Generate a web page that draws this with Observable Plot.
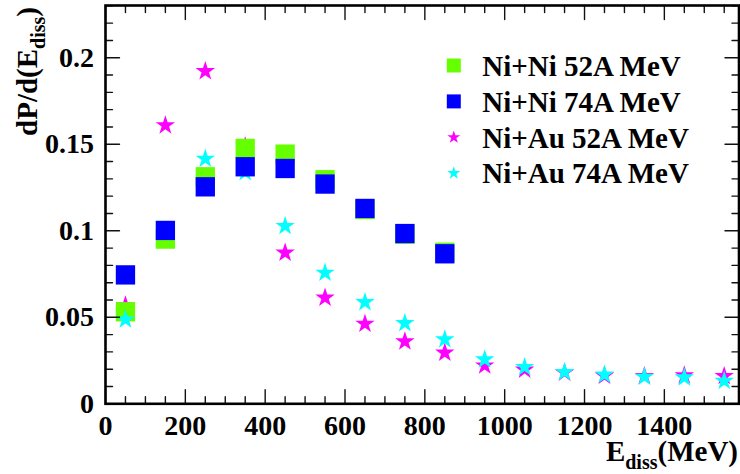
<!DOCTYPE html>
<html><head><meta charset="utf-8">
<script src="https://cdn.jsdelivr.net/npm/d3@7"></script>
<script src="https://cdn.jsdelivr.net/npm/@observablehq/plot@0.6"></script>
<style>
body{margin:0;background:#fff;font-family:'Liberation Serif';}
#wrap{position:relative;width:740px;height:474px;}
.ttl{font-family:'Liberation Serif';font-weight:bold;font-size:29px;line-height:29px;white-space:nowrap;color:#000;}
.ttl sub{font-size:20px;vertical-align:baseline;position:relative;top:8px;}
#xtitle{position:absolute;right:2px;top:437.3px;}
#yorigin{position:absolute;left:0;top:0;width:0;height:0;transform:translate(36.5px,7px) rotate(-90deg);transform-origin:0 0;}
#ytitle{position:absolute;right:0;top:-24.2px;}
</style>
</head><body><div id="wrap"><div id="chart"></div>
<div id="xtitle" class="ttl">E<sub>diss</sub>(MeV)</div>
<div id="yorigin"><div id="ytitle" class="ttl">dP/d(E<sub>diss</sub>)</div></div>
</div>
<script>
// ---- data (bin centres in MeV, dP/d(Ediss) values) ----
const eBins = [50,150,250,350,450,550,650,750,850,950,1050,1150,1250,1350,1450,1550];
const niNi52 = [0.0532,0.0952,0.1312,0.1476,0.1443,0.1295,0.1123,0.0980,0.0876];
const niNi74 = [0.0745,0.1002,0.1254,0.1370,0.1360,0.1270,0.1129,0.0984,0.0867];
const niAu52 = [0.0568,0.1609,0.1922,0.1487,0.0873,0.0613,0.0462,0.0360,0.0295,0.0221,0.0197,0.0180,0.0162,0.0160,0.0164,0.0160];
const niAu74 = [0.0487,0.1000,0.1416,0.1338,0.1027,0.0757,0.0587,0.0466,0.0372,0.0256,0.0212,0.0183,0.0168,0.0156,0.0152,0.0132];
const seriesNames = ["Ni+Ni 52A MeV","Ni+Ni 74A MeV","Ni+Au 52A MeV","Ni+Au 74A MeV"];
const seriesColors = ["#66ff00","#0000ff","#ff00ff","#00ffff"];
const seriesSymbols = ["square","square","star","star"];
const xMajorTicks = [0,200,400,600,800,1000,1200,1400];
const xTickLabels = ["0","200","400","600","800","1000","1200","1400"];
const yMajorTicks = [0,0.05,0.1,0.15,0.2];
const yTickLabels = ["0","0.05","0.1","0.15","0.2"];
const xDomain = [0,1587];
const yDomain = [0,0.2302];

const W = 740, H = 474;
const FONT = "Liberation Serif";
const seriesValues = [niNi52, niNi74, niAu52, niAu74];
const table = seriesValues.map((vals, s) => vals.map((v, i) => ({e: eBins[i], v, s})));

const xMinor = d3.range(0, xDomain[1], 50).filter(d => d % 200 !== 0);
const yMinor = d3.range(1, 24).map(d => d / 100).filter(d => d <= yDomain[1] && Math.round(d * 100) % 5 !== 0);

const tickShape = {draw(ctx, l) { ctx.moveTo(0, 0); ctx.lineTo(0, -l); }};
function ticks(data, opts) {
  return Plot.vector(data, {anchor: "start", shape: tickShape, stroke: "#111", strokeWidth: 1.4, ...opts});
}

function pts(s, r) {
  return Plot.dot(table[s], {x: "e", y: "v", symbol: seriesSymbols[s], fill: seriesColors[s], r});
}

const legendMarks = [];
seriesNames.forEach((name, i) => {
  const dy = 60 + i * 35.9;
  legendMarks.push(Plot.dot([name], {frameAnchor: "top-left", dx: 348.3, dy,
    symbol: seriesSymbols[i], fill: seriesColors[i], r: seriesSymbols[i] === "square" ? 7.9 : 4.1}));
  legendMarks.push(Plot.text([name], {frameAnchor: "top-left", dx: 376.7, dy: dy + 1, text: d => d,
    textAnchor: "start", lineAnchor: "middle", fontSize: 29, fontWeight: "bold", fill: "black", fontFamily: FONT}));
});

const chart = Plot.plot({
  width: W, height: H,
  marginLeft: 105, marginRight: 1.5, marginTop: 5, marginBottom: 70.7,
  style: {fontFamily: FONT},
  x: {domain: xDomain, axis: null},
  y: {domain: yDomain, axis: null},
  marks: [
    pts(2, 6.1), pts(0, 10.9), pts(3, 6.1), pts(1, 10.9),
    // bottom / top ticks
    ticks(xMajorTicks, {x: d => d, y: yDomain[0], length: 14, rotate: 0}),
    ticks(xMinor, {x: d => d, y: yDomain[0], length: 7, rotate: 0}),
    ticks(xMajorTicks, {x: d => d, y: yDomain[1], length: 14, rotate: 180}),
    ticks(xMinor, {x: d => d, y: yDomain[1], length: 7, rotate: 180}),
    // left / right ticks
    ticks(yMajorTicks, {y: d => d, x: xDomain[0], length: 14, rotate: 90}),
    ticks(yMinor, {y: d => d, x: xDomain[0], length: 7, rotate: 90}),
    ticks(yMajorTicks, {y: d => d, x: xDomain[1], length: 14, rotate: -90}),
    ticks(yMinor, {y: d => d, x: xDomain[1], length: 7, rotate: -90}),
    // tick labels
    Plot.text(xMajorTicks, {x: d => d, frameAnchor: "bottom", dy: 31, lineAnchor: "bottom",
      text: (d, i) => xTickLabels[i], fontSize: 28, fontWeight: "bold", fill: "black", fontFamily: FONT}),
    Plot.text(yMajorTicks, {y: d => d, frameAnchor: "left", dx: -11.5, textAnchor: "end", lineAnchor: "middle",
      text: (d, i) => yTickLabels[i], fontSize: 28, fontWeight: "bold", fill: "black", fontFamily: FONT}),
    ...legendMarks,
    Plot.frame({stroke: "black", strokeWidth: 2.6})
  ]
});
document.getElementById("chart").appendChild(chart);
d3.select(chart).selectAll("text").style("font-family", "'Liberation Serif'");
</script>
</body></html>
